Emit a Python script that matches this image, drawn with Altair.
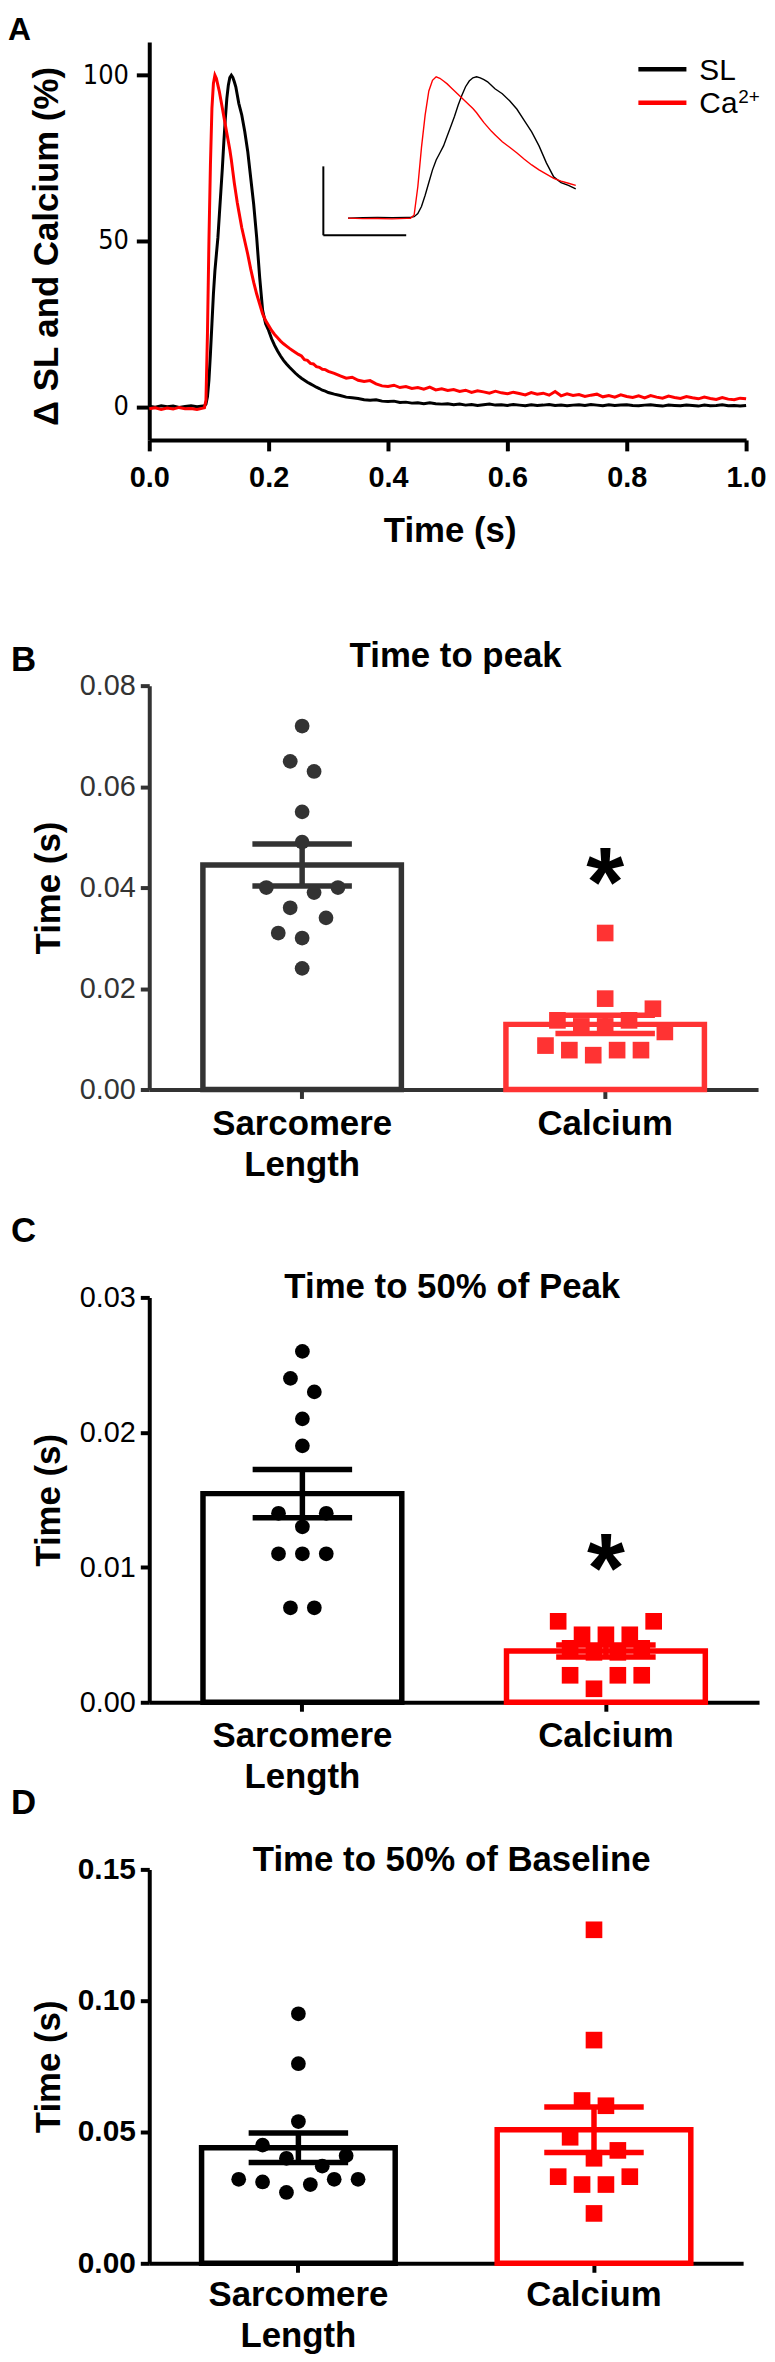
import numpy as np
import pandas as pd
import altair as alt

FONT = "Liberation Sans, Arial, Helvetica, sans-serif"
NARROW = "Liberation Sans Narrow, Arial Narrow, DejaVu Sans Condensed, sans-serif"

# ---------------- Panel A: normalised transients (time in s, % of peak) ----------------
T = [0.00, 0.01, 0.02, 0.03, 0.04, 0.05, 0.06, 0.07, 0.08, 0.09,
     0.0925, 0.095, 0.0975, 0.1, 0.1025, 0.105, 0.1075, 0.11, 0.1125, 0.115, 0.1175, 0.12,
     0.1225, 0.125, 0.1275, 0.13, 0.1325, 0.135, 0.1375, 0.14, 0.1425, 0.145, 0.1475, 0.15,
     0.155, 0.16, 0.165, 0.17, 0.175, 0.18, 0.185, 0.19, 0.195, 0.2,
     0.205, 0.21, 0.215, 0.22, 0.225, 0.23, 0.235, 0.24, 0.245, 0.25,
     0.255, 0.26, 0.265, 0.27, 0.275, 0.28, 0.285, 0.29, 0.295, 0.3,
     0.31, 0.32, 0.33, 0.34, 0.35, 0.36, 0.37, 0.38, 0.39, 0.40,
     0.41, 0.42, 0.43, 0.44, 0.45, 0.46, 0.47, 0.48, 0.49, 0.50,
     0.51, 0.52, 0.53, 0.54, 0.55, 0.56, 0.57, 0.58, 0.59, 0.60,
     0.61, 0.62, 0.63, 0.64, 0.65, 0.66, 0.67, 0.68, 0.69, 0.70,
     0.71, 0.72, 0.73, 0.74, 0.75, 0.76, 0.77, 0.78, 0.79, 0.80,
     0.81, 0.82, 0.83, 0.84, 0.85, 0.86, 0.87, 0.88, 0.89, 0.90,
     0.91, 0.92, 0.93, 0.94, 0.95, 0.96, 0.97, 0.98, 0.99, 1.00]

SL = [0.2, -0.1, 0.3, 0.0, 0.2, -0.2, 0.1, 0.3, 0.0, 0.2,
      0.3, 0.8, 3, 8, 16, 25, 34, 41, 46, 51, 58, 65,
      72, 80, 87, 93, 97, 99.3, 100, 99.3, 98, 96.5, 94, 91.5,
      88, 83, 77, 69, 61, 51, 39, 29, 25, 23,
      20.5, 18.5, 16.8, 15.3, 14.0, 12.9, 11.9, 11.0, 10.1, 9.3,
      8.6, 8.0, 7.4, 6.9, 6.4, 5.9, 5.5, 5.0, 4.7, 4.3,
      3.8, 3.4, 2.9, 2.7, 2.5, 2.1, 2.0, 2.1, 1.7, 1.6,
      1.7, 1.3, 1.4, 1.1, 1.2, 0.9, 1.2, 0.9, 0.8, 0.9,
      0.6, 0.8, 0.5, 0.7, 0.4, 0.6, 0.8, 0.5, 0.6, 0.4,
      0.7, 0.5, 0.3, 0.6, 0.4, 0.5, 0.7, 0.4, 0.5, 0.3,
      0.5, 0.6, 0.4, 0.7, 0.5, 0.3, 0.6, 0.4, 0.5, 0.6,
      0.4, 0.3, 0.5, 0.6, 0.4, 0.2, 0.5, 0.4, 0.3, 0.5,
      0.4, 0.2, 0.5, 0.3, 0.4, 0.6, 0.3, 0.4, 0.2, 0.4]

CA = [-0.6, -0.3, -0.8, -0.4, -0.7, -0.2, -0.6, -0.5, -0.8, -0.4,
      -0.3, 2, 22, 50, 73, 90, 97.5, 100, 99, 97, 95, 92.5,
      90, 87.5, 85, 82.5, 80, 77.5, 74.5, 71, 67.5, 64.5, 61.5, 59,
      54, 50, 46, 41.5, 37.5, 34, 31, 28, 26, 24.5,
      23, 21.8, 20.8, 19.8, 19.0, 18.3, 17.6, 17.0, 16.4, 15.8,
      15.3, 14.2, 14.0, 13.1, 12.9, 12.1, 11.9, 11.3, 11.2, 10.7,
      10.1, 9.3, 8.6, 8.9, 8.0, 7.6, 7.9, 6.9, 6.3, 6.1,
      6.5, 5.8, 6.1, 5.5, 5.8, 5.3, 5.9, 5.1, 5.4, 4.9,
      5.2, 4.6, 5.0, 4.3, 4.8, 4.5, 4.1, 4.7, 4.2, 3.9,
      4.4, 4.0, 3.6, 4.3, 3.8, 4.1, 3.5, 4.6, 3.3, 3.9,
      3.4, 3.7, 3.1, 3.5, 3.8, 3.0, 3.4, 2.9, 3.6, 3.1,
      2.8, 3.3, 2.7, 3.4, 2.9, 2.6, 3.2, 2.8, 2.5, 3.1,
      2.7, 2.4, 2.9, 2.5, 2.2, 2.8, 2.3, 2.1, 2.6, 2.4]

assert len(T) == len(SL) == len(CA)

# ---------------- Panels B-D: individual cells (s) ----------------
GROUPS = ["Sarcomere Length", "Calcium"]

B_SL = [0.072, 0.065, 0.063, 0.055, 0.049, 0.040, 0.039, 0.040, 0.036, 0.034, 0.031, 0.030, 0.024]
B_CA = [0.031, 0.018, 0.016, 0.0137, 0.0137, 0.0125, 0.0125, 0.0114, 0.0087, 0.0078, 0.0068, 0.0078, 0.0078]
C_SL = [0.026, 0.024, 0.023, 0.021, 0.019, 0.014, 0.014, 0.013, 0.011, 0.011, 0.011, 0.007, 0.007]
C_CA = [0.006, 0.006, 0.005, 0.005, 0.005, 0.004, 0.004, 0.0037, 0.0037, 0.002, 0.002, 0.002, 0.001]
D_SL = [0.095, 0.076, 0.054, 0.045, 0.040, 0.041, 0.037, 0.032, 0.031, 0.032, 0.032, 0.030, 0.027]
D_CA = [0.127, 0.085, 0.062, 0.060, 0.048, 0.043, 0.040, 0.033, 0.033, 0.030, 0.030, 0.019]

# scatter column (beeswarm lane) of each point, in the order above
B_SL_LANE = [0, -1, 1, 0, 0, -3, 1, 3, -1, 2, -2, 0, 0]
B_CA_LANE = [0, 0, 4, -4, 2, -2, 0, 5, -5, -3, -1, 1, 3]
C_SL_LANE = [0, -1, 1, 0, 0, -2, 2, 0, -2, 0, 2, -1, 1]
C_CA_LANE = [-4, 4, -2, 0, 2, -3, 3, -1, 1, -3, 1, 3, -1]
D_SL_LANE = [0, 0, 0, -3, -1, 4, 2, -5, -3, 3, 5, 1, -1]
D_CA_LANE = [0, 0, -1, 1, -2, 2, 0, -3, 3, -1, 1, 0]
LANE_PX = 12

ONE = pd.DataFrame({"k": [0]})


def txt(text, x, y, size, weight="bold", align="left", font=FONT, color="black", baseline="alphabetic"):
    return alt.Chart(ONE).mark_text(text=text, font=font, fontSize=size, fontWeight=weight,
                                    align=align, baseline=baseline, color=color).encode(
        x=alt.value(x), y=alt.value(y))


def seg(x, x2, y, y2, color="black", w=2.0, opacity=1.0):
    return alt.Chart(ONE).mark_rule(color=color, strokeWidth=w, opacity=opacity).encode(
        x=alt.value(x), x2=alt.value(x2), y=alt.value(y), y2=alt.value(y2))


# ---------------- Panel A ----------------
n = len(T)
dfA = pd.DataFrame({"t": T + T, "v": SL + CA, "series": ["SL"] * n + ["Ca"] * n})

xA = alt.X("t:Q", scale=alt.Scale(domain=[0, 1], nice=False, zero=False),
           axis=alt.Axis(values=[0, 0.2, 0.4, 0.6, 0.8, 1.0], format=".1f", title="Time (s)",
                         titleFont=FONT, titleFontSize=35, titleFontWeight="bold", titleColor="black",
                         titleBaseline="alphabetic", titleX=302, titleY=102,
                         labelFont=FONT, labelFontSize=29, labelFontWeight="bold", labelColor="black",
                         labelPadding=13, labelFlush=False, tickSize=11, tickWidth=4, tickColor="black",
                         domainWidth=4, domainColor="black", grid=False))
yA = alt.Y("v:Q", scale=alt.Scale(domain=[-10, 110], nice=False, zero=False),
           axis=alt.Axis(values=[0, 50, 100], title="\u0394 SL and Calcium (%)",
                         titleFont=FONT, titleFontSize=35, titleFontWeight="bold", titleColor="black",
                         titleAngle=270, titleAlign="center", titleBaseline="alphabetic",
                         titleX=-92, titleY=205,
                         labelFont=NARROW, labelFontSize=27, labelColor="black", labelPadding=8,
                         labelFlush=False, tickSize=13, tickWidth=4, tickColor="black",
                         domainWidth=4, domainColor="black", grid=False))

lineSL = alt.Chart(dfA).transform_filter(alt.datum.series == "SL").mark_line(
    color="black", strokeWidth=3).encode(x=xA, y=yA)
lineCa = alt.Chart(dfA).transform_filter(alt.datum.series == "Ca").mark_line(
    color="#ff0000", strokeWidth=3).encode(x=xA, y=yA)

mainA = alt.layer(
    lineSL, lineCa,
    seg(491.7, 540, 27.3, 27.3, "black", 4.5),
    seg(491.7, 540, 61, 61, "#ff0000", 4.5),
    txt("SL", 553, 38, 30, weight="normal"),
    txt("Ca", 553, 71.7, 30, weight="normal"),
    txt("2+", 592, 61.5, 19, weight="normal"),
    seg(175, 175, 125, 194.3, "black", 2),
    seg(175, 258.3, 194.3, 194.3, "black", 2),
    txt("A", -142, -2, 32),
    seg(-142, 617, -27, 555, "white", 0.5, 0.0),
)

xI = alt.X("t:Q", scale=alt.Scale(domain=[0.042, 0.207], range=[188, 431.7], nice=False, zero=False), axis=None)
yI = alt.Y("v:Q", scale=alt.Scale(domain=[0, 100], range=[176.7, 35], nice=False, zero=False), axis=None)
insetSL = alt.Chart(dfA).transform_filter(
    "datum.series == 'SL' && datum.t >= 0.042 && datum.t <= 0.207").mark_line(
    color="black", strokeWidth=1.4).encode(x=xI, y=yI)
insetCa = alt.Chart(dfA).transform_filter(
    "datum.series == 'Ca' && datum.t >= 0.042 && datum.t <= 0.207").mark_line(
    color="#ff0000", strokeWidth=1.4).encode(x=xI, y=yI)
insetA = alt.layer(insetSL, insetCa)

panelA = alt.layer(mainA, insetA).resolve_scale(x="independent", y="independent").properties(
    width=600, height=400)


# ---------------- Panels B-D ----------------
def bar_panel(sl, sl_lane, ca, ca_lane, ymax, yvals, w, h, colors, axis_color, ylab_weight,
              ylab_size, xlab_pad, title, title_x, title_y, letters, star_y, bounds):
    pts = pd.DataFrame({
        "group": [GROUPS[0]] * len(sl) + [GROUPS[1]] * len(ca),
        "value": list(sl) + list(ca),
        "lane": list(sl_lane) + list(ca_lane),
    })
    rows = []
    for g, arr in zip(GROUPS, (sl, ca)):
        a = np.asarray(arr, dtype=float)
        m = a.mean()
        se = a.std(ddof=1) / np.sqrt(a.size)
        rows.append({"group": g, "mean": m, "lo": m - se, "hi": m + se})
    summ = pd.DataFrame(rows)

    xaxis = alt.Axis(title=None, labelAngle=0,
                     labelExpr="datum.value == 'Sarcomere Length' ? ['Sarcomere', 'Length'] : datum.label",
                     labelFont=FONT, labelFontSize=35, labelFontWeight="bold", labelColor="black",
                     labelLineHeight=41.5, labelPadding=xlab_pad, labelOverlap=False, labelLimit=0,
                     tickSize=9, tickWidth=4, tickColor=axis_color, domainWidth=4, domainColor=axis_color)
    X = alt.X("group:N", sort=GROUPS,
              scale=alt.Scale(domain=GROUPS, paddingInner=0.345, paddingOuter=0.177), axis=xaxis)
    yscale = alt.Scale(domain=[0, ymax], nice=False, zero=True)
    yaxis = alt.Axis(values=yvals, format=".2f", title="Time (s)",
                     titleFont=FONT, titleFontSize=35, titleFontWeight="bold", titleColor="black",
                     titleAngle=270, titleAlign="center", titleBaseline="alphabetic",
                     titleX=-90, titleY=h / 2,
                     labelFont=FONT, labelFontSize=ylab_size, labelFontWeight=ylab_weight,
                     labelColor=axis_color, labelPadding=5, labelFlush=False,
                     tickSize=9, tickWidth=4, tickColor=axis_color,
                     domainWidth=4, domainColor=axis_color, grid=False)

    def Y(field):
        return alt.Y(f"{field}:Q", scale=yscale, axis=yaxis)

    cs = alt.Scale(domain=GROUPS, range=colors)

    bars = alt.Chart(summ).mark_bar(fill="white", strokeWidth=5.5).encode(
        x=X, y=Y("mean"), stroke=alt.Stroke("group:N", scale=cs, legend=None))
    whisk = alt.Chart(summ).mark_rule(strokeWidth=5.5).encode(
        x=X, y=Y("lo"), y2="hi:Q", stroke=alt.Stroke("group:N", scale=cs, legend=None))
    cap_lo = alt.Chart(summ).mark_tick(thickness=5.5, size=100, opacity=1).encode(
        x=X, y=Y("lo"), color=alt.Color("group:N", scale=cs, legend=None))
    cap_hi = alt.Chart(summ).mark_tick(thickness=5.5, size=100, opacity=1).encode(
        x=X, y=Y("hi"), color=alt.Color("group:N", scale=cs, legend=None))
    dots = alt.Chart(pts).mark_point(
        filled=True, opacity=1, strokeWidth=0,
        xOffset={"expr": f"datum.lane * {LANE_PX}"}).encode(
        x=X, y=Y("value"),
        shape=alt.Shape("group:N", scale=alt.Scale(domain=GROUPS, range=["circle", "square"]), legend=None),
        fill=alt.Fill("group:N", scale=cs, legend=None),
        size=alt.Size("group:N", scale=alt.Scale(domain=GROUPS, range=[220, 280]), legend=None))

    layers = [bars, whisk, cap_lo, cap_hi, dots]
    if star_y is not None:
        layers.append(alt.Chart(pd.DataFrame({"group": ["Calcium"], "y": [star_y]})).mark_text(
            text="*", font=FONT, fontSize=98, fontWeight="bold", baseline="alphabetic", dy=46,
            color="black").encode(x=X, y=Y("y")))
    layers.append(txt(title, title_x, title_y, 35, align="center"))
    for (lt, lx, ly) in letters:
        layers.append(txt(lt, lx, ly, 35))
    l, r, t, b = bounds
    layers.append(seg(l, r, t, b, "white", 0.5, 0.0))
    return alt.layer(*layers).properties(width=w, height=h)


panelB = bar_panel(B_SL, B_SL_LANE, B_CA, B_CA_LANE, 0.08, [0, 0.02, 0.04, 0.06, 0.08], 612, 406,
                   ["#333333", "#ff3333"], "#333333", "normal", 29, 8,
                   "Time to peak", 308, -19, [("B", -139, -15)], 0.0435, (-139, 610, -92, 513))
panelC = bar_panel(C_SL, C_SL_LANE, C_CA, C_CA_LANE, 0.03, [0, 0.01, 0.02, 0.03], 613, 407,
                   ["#000000", "#ff0000"], "#000000", "normal", 29, 7,
                   "Time to 50% of Peak", 304.6, 1, [("C", -139, -56), ("D", -139, 519)], 0.0108,
                   (-139, 610, -102, 528))
panelD = bar_panel(D_SL, D_SL_LANE, D_CA, D_CA_LANE, 0.15, [0, 0.05, 0.10, 0.15], 597, 396,
                   ["#000000", "#ff0000"], "#000000", "bold", 30, 5,
                   "Time to 50% of Baseline", 304, 2, [], None, (-139, 610, -47, 490))

chart = alt.vconcat(panelA, panelB, panelC, panelD, spacing=0).resolve_scale(
    color="independent", fill="independent", stroke="independent",
    shape="independent", size="independent").properties(
    padding=0, background="white").configure(font=FONT).configure_view(stroke=None)

chart.save("out.html", embed_options={"renderer": "svg", "actions": False})
